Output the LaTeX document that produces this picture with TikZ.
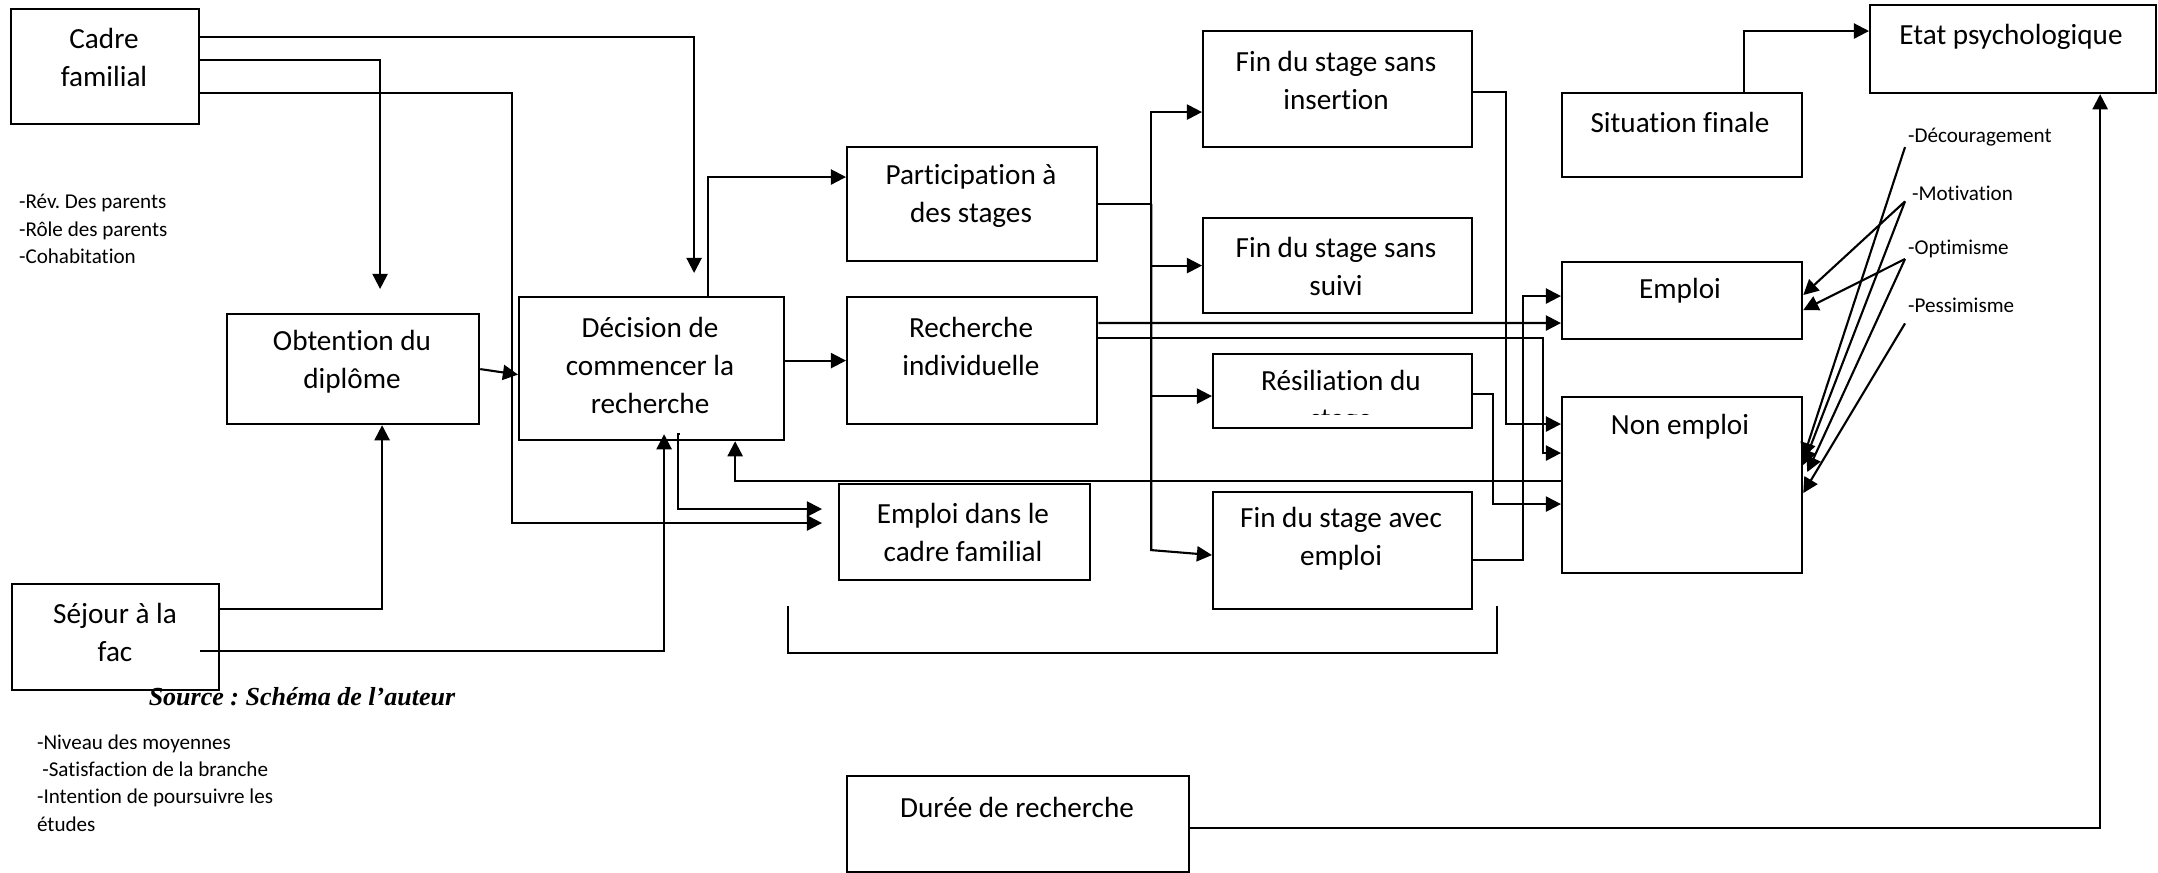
\documentclass[tikz,border=0pt]{standalone}
\usepackage{fontspec}
\setmainfont{Carlito}[Ligatures=NoCommon]
\newfontfamily\sourcefont{Liberation Serif}
\usetikzlibrary{arrows.meta}
\frenchspacing
\tikzset{
	box/.style={draw, anchor=north west, inner sep=0pt},
	txt/.style={font=\fontsize{8.3}{10.8}\selectfont, align=center, inner sep=0pt},
	note/.style={font=\fontsize{6}{7.8}\selectfont, align=left, anchor=west, inner sep=0pt},
	srcnote/.style={font=\sourcefont\bfseries\itshape\fontsize{7.4}{9}\selectfont, inner sep=0pt},
	fl/.style={-{Triangle[length=4.3pt,width=4.3pt]}}
}

\begin{document}
\begin{tikzpicture}[x=0.01cm,y=-0.01cm,line width=0.6pt]
			\useasboundingbox (0,0) rectangle (2158,872);
			\node[box, minimum width=1.88cm, minimum height=1.15cm] (cadre) at (10,8) {};
			\node[box, minimum width=2.52cm, minimum height=1.10cm] (obtention) at (226,313) {};
			\node[box, minimum width=2.65cm, minimum height=1.43cm] (decision) at (518,296) {};
			\node[box, minimum width=2.50cm, minimum height=1.14cm] (participation) at (846,146) {};
			\node[box, minimum width=2.50cm, minimum height=1.27cm] (recherche) at (846,296) {};
			\node[box, minimum width=2.51cm, minimum height=0.96cm] (emploicadre) at (838,483) {};
			\node[box, minimum width=2.69cm, minimum height=1.16cm] (fininsertion) at (1202,30) {};
			\node[box, minimum width=2.69cm, minimum height=0.95cm] (finsuivi) at (1202,217) {};
			\node[box, minimum width=2.59cm, minimum height=0.74cm] (resiliation) at (1212,353) {};
			\node[box, minimum width=2.59cm, minimum height=1.17cm] (finemploi) at (1212,491) {};
			\node[box, minimum width=2.07cm, minimum height=1.06cm] (sejour) at (11,583) {};
			\node[box, minimum width=2.40cm, minimum height=0.84cm] (situation) at (1561,92) {};
			\node[box, minimum width=2.86cm, minimum height=0.88cm] (etat) at (1869,4) {};
			\node[box, minimum width=2.40cm, minimum height=0.77cm] (emploi) at (1561,261) {};
			\node[box, minimum width=2.40cm, minimum height=1.76cm] (nonemploi) at (1561,396) {};
			\node[box, minimum width=3.42cm, minimum height=0.96cm] (duree) at (846,775) {};

			\node[txt] (cadre-t) at (104,57) {Cadre\\familial};
			\node[txt] (obtention-t) at (352,362) {Obtention du\\diplôme};
			\node[txt] (decision-t) at (650,365) {Décision de\\commencer la\\recherche};
			\node[txt] (participation-t) at (971,196) {Participation à\\des stages};
			\node[txt] (recherche-t) at (971,346) {Recherche\\individuelle};
			\node[txt] (emploicadre-t) at (963,532) {Emploi dans le\\cadre familial};
			\node[txt] (fininsertion-t) at (1336,80) {Fin du stage sans\\insertion};
			\node[txt] (finsuivi-t) at (1336,266) {Fin du stage sans\\suivi};
			\begin{scope}
				\clip (1212,353) rectangle (1471,414);
				\node[txt] (resiliation-t) at (1341,402) {Résiliation du\\stage};
			\end{scope}
			\node[txt] (finemploi-t) at (1341,539) {Fin du stage avec\\emploi};
			\node[txt] (sejour-t) at (115,632) {Séjour à la\\fac};
			\node[txt] (situation-t) at (1680,122) {Situation finale};
			\node[txt] (etat-t) at (2011,37) {Etat psychologique};
			\node[txt] (emploi-t) at (1680,291) {Emploi};
			\node[txt] (nonemploi-t) at (1680,427) {Non emploi};
			\node[txt] (duree-t) at (1017,807) {Durée de recherche};

			\node[note] (famille-n) at (18,229) {-Rév. Des parents\\-Rôle des parents\\-Cohabitation};
			\node[note] (fac-n) at (36,783) {-Niveau des moyennes\\\hspace*{1.5pt}-Satisfaction de la branche\\-Intention de poursuivre les\\études};
			\node[srcnote] (source) at (302,697) {Source : Schéma de l’auteur};
			\node[note] (decour) at (1907,137) {-Découragement};
			\node[note] (motiv) at (1911,193) {-Motivation};
			\node[note] (optim) at (1907,249) {-Optimisme};
			\node[note] (pessim) at (1907,305) {-Pessimisme};

			\draw[fl] ([yshift=-0.29cm]cadre.north east) -| ([xshift=1.76cm,yshift=0.23cm]decision.north west);
			\draw[fl] ([yshift=-0.52cm]cadre.north east) -| ([xshift=1.54cm,yshift=0.24cm]obtention.north west);
			\draw[fl] ([yshift=-0.85cm]cadre.north east) -- ++(312,0) |- ([xshift=-0.16cm,yshift=-0.40cm]emploicadre.north west);
			\draw[fl] (obtention.east) -- ([yshift=-0.06cm]decision.west);
			\draw[fl] ([xshift=1.90cm]decision.north west) |- ([yshift=-0.31cm]participation.north west);
			\draw[fl] (decision.east |- recherche.west) -- (recherche.west);
			\draw[fl] ([xshift=1.62cm,yshift=0.07cm]decision.south west) -- ++(-2,0) |- ([xshift=-0.16cm,yshift=-0.26cm]emploicadre.north west);
			\draw[fl] ([yshift=-0.26cm]sejour.north east) -| ([xshift=1.56cm]obtention.south west);
			\draw[fl] ([xshift=-0.20cm,yshift=-0.68cm]sejour.north east) -| ([xshift=1.46cm,yshift=0.07cm]decision.south west);

			\draw (participation.east) -- ++(53,0) coordinate (hub);
			\draw[fl] (hub) |- ([yshift=-0.82cm]fininsertion.north west);
			\draw[fl] (hub) |- (finsuivi.west);
			\draw[fl] (hub) |- ([yshift=-0.05cm]resiliation.west);
			\draw[fl] (hub) -- ++(0,346) -- ([yshift=-0.64cm]finemploi.north west);

			\draw[fl] ([yshift=-0.27cm]recherche.north east) -- ([yshift=-0.62cm]emploi.north west);
			\draw[fl] ([yshift=-0.42cm]recherche.north east) -- ++(445,0) |- ([yshift=-0.57cm]nonemploi.north west);
			\draw[fl] ([yshift=-0.62cm]fininsertion.north east) -- ++(33,0) |- ([yshift=-0.28cm]nonemploi.north west);
			\draw[fl] ([yshift=-0.41cm]resiliation.north east) -- ++(20,0) |- ([yshift=-1.08cm]nonemploi.north west);
			\draw[fl] ([yshift=-0.69cm]finemploi.north east) -- ++(50,0) |- ([yshift=-0.35cm]emploi.north west);
			\draw[fl] ([yshift=-0.85cm]nonemploi.north west) -| ([xshift=2.17cm]decision.south west);

			\draw[fl] ([xshift=1.83cm]situation.north west) |- ([yshift=-0.27cm]etat.north west);
			\draw[fl] ([yshift=-0.53cm]duree.north east) -| ([xshift=2.31cm]etat.south west);

			\draw[fl] ([xshift=-0.02cm]decour.south west) -- ([yshift=-0.62cm]nonemploi.north east);
			\draw[fl] ([xshift=-0.06cm]motiv.south west) -- ([yshift=-0.34cm]emploi.north east);
			\draw[fl] ([xshift=-0.06cm]motiv.south west) -- ([yshift=-0.69cm]nonemploi.north east);
			\draw[fl] ([xshift=-0.02cm]optim.south west) -- ([yshift=-0.49cm]emploi.north east);
			\draw[fl] ([xshift=-0.02cm]optim.south west) -- ([xshift=0.04cm,yshift=-0.76cm]nonemploi.north east);
			\draw[fl] ([xshift=-0.02cm,yshift=-0.10cm]pessim.south west) -- ([yshift=-0.97cm]nonemploi.north east);

			\draw (788,606) |- (1497,653) -- (1497,606);
		\end{tikzpicture}
\end{document}
